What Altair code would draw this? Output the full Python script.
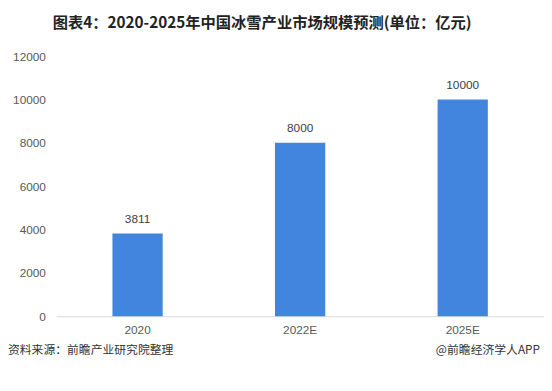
import altair as alt
import pandas as pd

years = ["2020", "2022E", "2025E"]
values = [3811, 8000, 10000]
y_ticks = [0, 2000, 4000, 6000, 8000, 10000, 12000]
title_text = "图表4：2020-2025年中国冰雪产业市场规模预测(单位：亿元)"
source_text = "资料来源：前瞻产业研究院整理"
brand_text = "@前瞻经济学人APP"

df = pd.DataFrame({"year": years, "value": values})

FONT = "Liberation Sans, Noto Sans CJK SC, sans-serif"
CJK = "Noto Sans CJK SC, sans-serif"

x = alt.X("year:N", sort=years, title=None,
          scale=alt.Scale(paddingInner=0, paddingOuter=0),
          axis=alt.Axis(labelAngle=0, ticks=False, domain=True, domainColor="#d9d9d9",
                        labelColor="#595959", labelFont=FONT, labelFontSize=12, labelPadding=9))
y = alt.Y("value:Q", title=None,
          scale=alt.Scale(domain=[0, 12000]),
          axis=alt.Axis(values=y_ticks, format="d", grid=False, ticks=False, domain=False,
                        labelColor="#595959", labelFont=FONT, labelFontSize=12, labelPadding=11))

bars = alt.Chart(df).mark_bar(size=51, color="#4285DE").encode(x=x, y=y)
labels = alt.Chart(df).mark_text(baseline="bottom", dy=-8, fontSize=12, font=FONT, color="#404040").encode(
    x=alt.X("year:N", sort=years), y="value:Q", text=alt.Text("value:Q", format="d"))

title = alt.Chart(pd.DataFrame({"t": [title_text]})).mark_text(
    font=CJK, fontSize=15.5, fontWeight="bold", color="#222222", align="center", baseline="middle"
).encode(x=alt.value(209), y=alt.value(-34), text="t:N")
source = alt.Chart(pd.DataFrame({"t": [source_text]})).mark_text(
    font=CJK, fontSize=12, color="#333333", align="left", baseline="middle"
).encode(x=alt.value(-49), y=alt.value(298), text="t:N")
brand = alt.Chart(pd.DataFrame({"t": [brand_text]})).mark_text(
    font=CJK, fontSize=12, color="#333333", align="right", baseline="middle"
).encode(x=alt.value(491), y=alt.value(298), text="t:N")

chart = alt.layer(bars, labels, title, source, brand).properties(
    width=495, height=264,
    autosize=alt.AutoSizeParams(type="none"),
    padding={"left": 49, "top": 46, "right": 0, "bottom": 65},
    background="white",
).configure_view(stroke=None)

chart.save("out.html", embed_options={"renderer": "svg", "actions": False})
